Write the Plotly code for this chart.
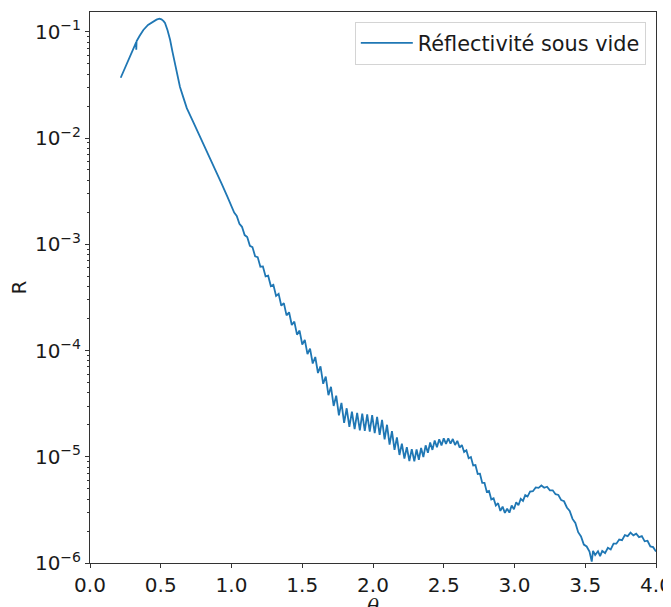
import plotly.graph_objects as go

# ---- data ----
theta_rise = [0.217, 0.245, 0.271, 0.300, 0.326, 0.327, 0.329, 0.350, 0.377, 0.410,
              0.448, 0.470, 0.490, 0.505, 0.520, 0.530, 0.548, 0.566, 0.583, 0.601,
              0.618, 0.636, 0.660, 0.684, 0.730, 0.778, 0.830, 0.880, 0.930, 0.970]
R_rise = [3.69e-2, 4.52e-2, 5.45e-2, 6.53e-2, 7.94e-2, 6.76e-2, 8.13e-2, 9.12e-2, 1.04e-1, 1.16e-1,
          1.25e-1, 1.30e-1, 1.33e-1, 1.31e-1, 1.26e-1, 1.21e-1, 1.035e-1, 8.41e-2, 6.46e-2, 5.01e-2,
          3.80e-2, 3.02e-2, 2.40e-2, 1.91e-2, 1.41e-2, 1.03e-2, 7.41e-3, 5.25e-3, 3.72e-3, 2.82e-3]

theta_fringe_a = [1.000, 1.019, 1.037, 1.056, 1.074, 1.093, 1.111, 1.130, 1.148, 1.167,
                  1.185, 1.204, 1.222, 1.241, 1.259, 1.278, 1.296, 1.315, 1.333, 1.352,
                  1.370, 1.389, 1.407, 1.426, 1.444, 1.463, 1.481, 1.500, 1.518, 1.537,
                  1.555, 1.574, 1.592, 1.611, 1.629, 1.648, 1.666, 1.685, 1.703, 1.722,
                  1.740, 1.759, 1.777, 1.796, 1.814, 1.833, 1.851, 1.870, 1.888, 1.907]
R_fringe_a = [2.33e-3, 1.99e-3, 1.85e-3, 1.56e-3, 1.46e-3, 1.22e-3, 1.17e-3, 9.66e-4, 9.40e-4, 7.71e-4,
              7.57e-4, 6.14e-4, 6.18e-4, 4.98e-4, 5.06e-4, 4.04e-4, 4.16e-4, 3.26e-4, 3.41e-4, 2.64e-4,
              2.79e-4, 2.14e-4, 2.29e-4, 1.74e-4, 1.87e-4, 1.41e-4, 1.54e-4, 1.14e-4, 1.26e-4, 9.23e-5,
              1.04e-4, 7.55e-5, 8.69e-5, 6.14e-5, 7.10e-5, 4.86e-5, 5.69e-5, 3.80e-5, 4.55e-5, 3.01e-5,
              3.76e-5, 2.45e-5, 3.21e-5, 2.08e-5, 2.86e-5, 1.91e-5, 2.66e-5, 1.82e-5, 2.59e-5, 1.77e-5]

theta_fringe_b = [1.924, 1.942, 1.959, 1.977, 1.994, 2.012, 2.029, 2.047, 2.064, 2.082,
                  2.099, 2.117, 2.134, 2.152, 2.169, 2.187, 2.204, 2.222, 2.239, 2.257,
                  2.274, 2.292]
R_fringe_b = [2.54e-5, 1.75e-5, 2.50e-5, 1.72e-5, 2.46e-5, 1.67e-5, 2.37e-5, 1.61e-5, 2.22e-5, 1.46e-5,
              2.00e-5, 1.30e-5, 1.74e-5, 1.16e-5, 1.52e-5, 1.04e-5, 1.33e-5, 9.62e-6, 1.23e-5, 9.12e-6,
              1.18e-5, 9.04e-6]

theta_fringe_c = [2.308, 2.324, 2.340, 2.356, 2.372, 2.388, 2.404, 2.420, 2.436, 2.452,
                  2.468, 2.484, 2.500, 2.516, 2.532, 2.548, 2.564, 2.580, 2.596, 2.612,
                  2.628, 2.644, 2.660, 2.676, 2.692, 2.708, 2.724, 2.740, 2.756, 2.772,
                  2.788, 2.804, 2.820, 2.836, 2.852, 2.868, 2.884, 2.900, 2.916, 2.932,
                  2.948, 2.964, 2.980, 2.996, 3.012, 3.028, 3.044, 3.060, 3.076, 3.092]
R_fringe_c = [1.17e-5, 9.38e-6, 1.21e-5, 9.95e-6, 1.28e-5, 1.09e-5, 1.36e-5, 1.16e-5, 1.42e-5, 1.23e-5,
              1.46e-5, 1.28e-5, 1.49e-5, 1.32e-5, 1.49e-5, 1.33e-5, 1.47e-5, 1.29e-5, 1.41e-5, 1.22e-5,
              1.29e-5, 1.11e-5, 1.15e-5, 9.68e-6, 9.95e-6, 8.28e-6, 8.36e-6, 6.89e-6, 6.93e-6, 5.68e-6,
              5.68e-6, 4.67e-6, 4.76e-6, 3.97e-6, 4.06e-6, 3.47e-6, 3.66e-6, 3.09e-6, 3.39e-6, 2.96e-6,
              3.24e-6, 2.98e-6, 3.47e-6, 3.21e-6, 3.73e-6, 3.50e-6, 4.01e-6, 3.84e-6, 4.35e-6, 4.22e-6]

theta_tail = [3.110, 3.130, 3.150, 3.170, 3.190, 3.210, 3.230, 3.250, 3.270, 3.290,
              3.310, 3.330, 3.350, 3.370, 3.390, 3.410, 3.430, 3.450, 3.470, 3.490,
              3.510, 3.530, 3.546, 3.555, 3.570, 3.590, 3.605, 3.620, 3.640, 3.660,
              3.680, 3.700, 3.720, 3.740, 3.760, 3.780, 3.800, 3.820, 3.840, 3.860,
              3.880, 3.900, 3.920, 3.940, 3.960, 3.980, 4.000]
R_tail = [4.70e-6, 4.74e-6, 5.15e-6, 5.09e-6, 5.36e-6, 5.11e-6, 5.22e-6, 4.84e-6, 4.83e-6, 4.44e-6,
          4.37e-6, 3.91e-6, 3.81e-6, 3.33e-6, 3.09e-6, 2.60e-6, 2.38e-6, 1.95e-6, 1.78e-6, 1.49e-6,
          1.43e-6, 1.28e-6, 1.03e-6, 1.30e-6, 1.19e-6, 1.29e-6, 1.16e-6, 1.30e-6, 1.24e-6, 1.39e-6,
          1.34e-6, 1.52e-6, 1.52e-6, 1.66e-6, 1.64e-6, 1.83e-6, 1.79e-6, 1.93e-6, 1.82e-6, 1.89e-6,
          1.75e-6, 1.79e-6, 1.60e-6, 1.62e-6, 1.43e-6, 1.41e-6, 1.28e-6]

x_tick_vals = [0.0, 0.5, 1.0, 1.5, 2.0, 2.5, 3.0, 3.5, 4.0]
x_tick_text = ["0.0", "0.5", "1.0", "1.5", "2.0", "2.5", "3.0", "3.5", "4.0"]
y_tick_vals = [1e-6, 1e-5, 1e-4, 1e-3, 1e-2, 1e-1]
y_tick_text = ["10<sup>\u22126</sup>", "10<sup>\u22125</sup>", "10<sup>\u22124</sup>",
               "10<sup>\u22123</sup>", "10<sup>\u22122</sup>", "10<sup>\u22121</sup>"]
y_minor_vals = [m * 10.0 ** e for e in range(-6, 0) for m in range(2, 10)]

series_name = "Réflectivité sous vide"

theta = theta_rise + theta_fringe_a + theta_fringe_b + theta_fringe_c + theta_tail
R = R_rise + R_fringe_a + R_fringe_b + R_fringe_c + R_tail

axis_col = "#333333"

fig = go.Figure()
fig.add_trace(go.Scatter(x=theta, y=R, mode="lines", name=series_name,
                         line=dict(color="#1f77b4", width=1.8)))

# the page body adds an 8 px margin, so the figure is sized/margined to compensate
fig.update_layout(
    width=671, height=599,
    margin=dict(l=82, r=23, t=4, b=44),
    paper_bgcolor="white", plot_bgcolor="white",
    font=dict(family="DejaVu Sans", size=20, color="#1a1a1a"),
    showlegend=True,
    legend=dict(x=0.982, y=0.982, xanchor="right", yanchor="top",
                bordercolor="#d4d4d4", borderwidth=1, itemwidth=52,
                bgcolor="rgba(255,255,255,0.8)", font=dict(size=20.8)),
)
fig.update_xaxes(range=[0, 4], tickmode="array", tickvals=x_tick_vals, ticktext=x_tick_text,
                 ticks="outside", ticklen=4, tickwidth=1, tickcolor=axis_col,
                 showline=True, linecolor=axis_col, linewidth=1, mirror=True,
                 showgrid=False, zeroline=False)
fig.update_yaxes(type="log", range=[-6, -0.814], tickmode="array",
                 tickvals=y_tick_vals, ticktext=y_tick_text,
                 ticks="outside", ticklen=4, tickwidth=1, tickcolor=axis_col,
                 minor=dict(tickmode="array", tickvals=y_minor_vals, ticks="outside",
                            ticklen=2, tickwidth=1, tickcolor=axis_col, showgrid=False),
                 showline=True, linecolor=axis_col, linewidth=1, mirror=True,
                 showgrid=False, zeroline=False)

fig.add_annotation(text="<i>θ</i>", xref="paper", yref="paper", x=0.5, y=-0.054,
                   xanchor="center", yanchor="top", showarrow=False,
                   font=dict(size=20, family="DejaVu Serif"))
fig.add_annotation(text="R", xref="paper", yref="paper", x=-0.1272, y=0.5,
                   xanchor="center", yanchor="middle", textangle=-90, showarrow=False,
                   font=dict(size=20))

fig.write_html("out.html")
